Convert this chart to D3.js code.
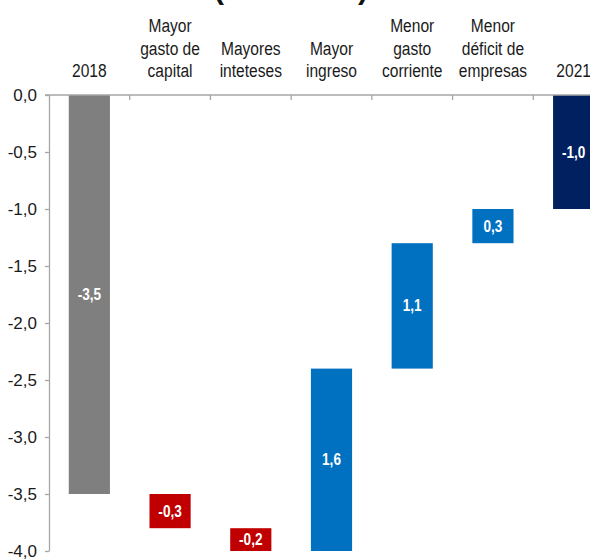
<!DOCTYPE html>
<html>
<head>
<meta charset="utf-8">
<script src="https://cdn.jsdelivr.net/npm/d3@7/dist/d3.min.js"></script>
<style>
  html, body { margin: 0; padding: 0; background: #fff; }
  svg { display: block; font-family: "Liberation Sans", Arial, sans-serif; }
</style>
</head>
<body>
<svg id="chart" width="590" height="559"></svg>
<script>
// Waterfall: fiscal balance 2018 -> 2021 and its contributing factors
const categories = ["2018", "capital", "intereses", "ingreso", "corriente", "empresas", "2021"];
const labelLines = [
  ["2018"],
  ["Mayor", "gasto de", "capital"],
  ["Mayores", "inteteses"],
  ["Mayor", "ingreso"],
  ["Menor", "gasto", "corriente"],
  ["Menor", "déficit de", "empresas"],
  ["2021"]
];
// "total" bars start at zero; "delta" bars continue from the running total
const kinds  = ["total", "delta", "delta", "delta", "delta", "delta", "total"];
const values = [-3.5, -0.3, -0.2, 1.6, 1.1, 0.3, -1.0];
const yTicks = [0, -0.5, -1.0, -1.5, -2.0, -2.5, -3.0, -3.5, -4.0];
const titleText = "(% del PBI)";

const colors = { start: "#7f7f7f", end: "#002060", neg: "#c00000", pos: "#0070c0" };

const svg = d3.select("#chart");
const locale = d3.formatLocale({ decimal: ",", thousands: ".", grouping: [3], currency: ["", ""], minus: "-" });
const fmt = locale.format(".1f");

const x = d3.scaleBand()
  .domain(categories)
  .range([49, 614])
  .paddingInner(0.49)
  .paddingOuter(0.245);

const y = d3.scaleLinear().domain([0, -4]).range([95, 551]);

// running totals
let running = 0;
const bars = categories.map((c, i) => {
  let y0, y1;
  if (kinds[i] === "total") { y0 = 0; y1 = values[i]; running = values[i]; }
  else { y0 = running; y1 = running + values[i]; running = y1; }
  let color;
  if (i === 0) color = colors.start;
  else if (i === categories.length - 1) color = colors.end;
  else color = values[i] < 0 ? colors.neg : colors.pos;
  return { c, i, y0, y1, v: values[i], color };
});

// title, sitting at the top edge so only its lower part shows
svg.append("text")
  .attr("x", 291).attr("y", -1)
  .attr("text-anchor", "middle")
  .attr("font-size", 30).attr("font-weight", "bold")
  .attr("textLength", 154).attr("lengthAdjust", "spacing")
  .attr("fill", "#111")
  .text(titleText);

// bars
svg.append("g").selectAll("rect").data(bars).join("rect")
  .attr("x", d => x(d.c))
  .attr("width", x.bandwidth())
  .attr("y", d => y(Math.max(d.y0, d.y1)))
  .attr("height", d => Math.abs(y(d.y0) - y(d.y1)))
  .attr("fill", d => d.color);

// value labels
svg.append("g").selectAll("text").data(bars).join("text")
  .attr("transform", d => `translate(${x(d.c) + x.bandwidth() / 2},${(y(d.y0) + y(d.y1)) / 2 + 5.5}) scale(0.85,1)`)
  .attr("text-anchor", "middle")
  .attr("font-size", 16).attr("font-weight", "bold")
  .attr("fill", "#fff")
  .text(d => fmt(d.v));

// y axis
const yAxis = d3.axisLeft(y)
  .tickValues(yTicks)
  .tickFormat(fmt)
  .tickSize(4)
  .tickPadding(8)
  .tickSizeOuter(0);
const gy = svg.append("g").attr("transform", "translate(49,0)").call(yAxis);
gy.select(".domain").attr("stroke", "#a6a6a6").attr("stroke-width", 1.3);
gy.selectAll(".tick line").attr("stroke", "#a6a6a6").attr("stroke-width", 1.3);
gy.selectAll(".tick text")
  .attr("font-size", 17)
  .attr("fill", "#1a1a1a")
  .attr("font-family", "'Liberation Sans', Arial, sans-serif");

// category axis along zero, with ticks between the bands
const boundaries = categories.slice(0, -1).map(c => x(c) + x.bandwidth() / 2 + x.step() / 2);
const gx = svg.append("g");
gx.append("line")
  .attr("x1", 45).attr("x2", 614)
  .attr("y1", y(0)).attr("y2", y(0))
  .attr("stroke", "#a6a6a6").attr("stroke-width", 1.3);
gx.selectAll("line.tk").data(boundaries).join("line")
  .attr("class", "tk")
  .attr("x1", d => d).attr("x2", d => d)
  .attr("y1", y(0)).attr("y2", y(0) + 5)
  .attr("stroke", "#a6a6a6").attr("stroke-width", 1.3);

// category labels, bottom-aligned just above the axis
const lineGap = 22.5;
const lastBaseline = 77;
const lab = svg.append("g");
categories.forEach((c, i) => {
  const lines = labelLines[i];
  const cx = x(c) + x.bandwidth() / 2;
  lines.forEach((t, j) => {
    const by = lastBaseline - (lines.length - 1 - j) * lineGap;
    lab.append("text")
      .attr("transform", `translate(${cx},${by}) scale(0.82,1)`)
      .attr("text-anchor", "middle")
      .attr("font-size", 19)
      .attr("fill", "#1a1a1a")
      .text(t);
  });
});
</script>
</body>
</html>
